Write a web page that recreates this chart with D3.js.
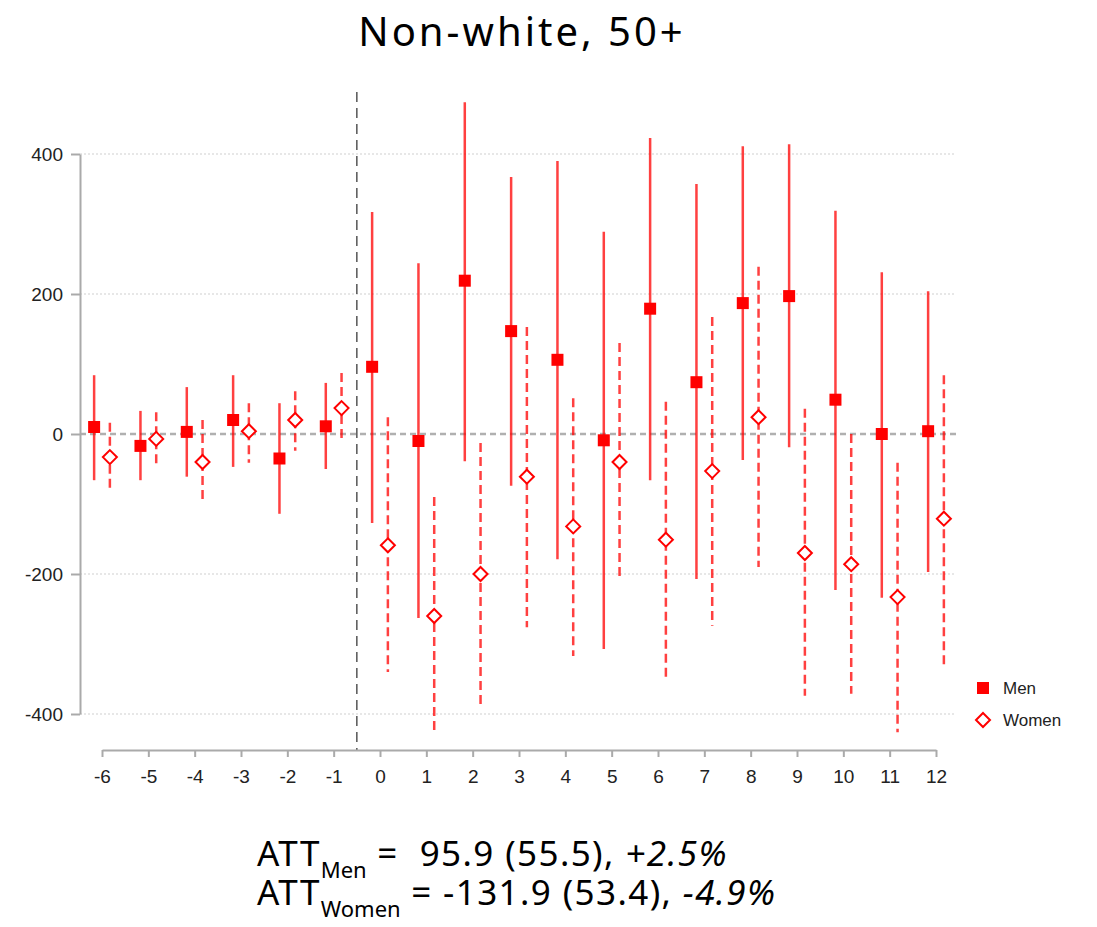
<!DOCTYPE html>
<html>
<head>
<meta charset="utf-8">
<script src="https://cdn.jsdelivr.net/npm/d3@7"></script>
<style>
  body { margin: 0; background: #fff; }
  svg text { white-space: pre; }
</style>
</head>
<body>
<div id="chart"></div>
<script>
var periods = [-6, -5, -4, -3, -2, -1, 0, 1, 2, 3, 4, 5, 6, 7, 8, 9, 10, 11, 12];

var menEst = [10, -17, 3, 20, -35, 11, 96, -10, 219, 147, 106, -9, 179, 74, 187, 197, 49, 0, 4];
var menLo  = [-66, -66, -61, -47, -114, -50, -127, -263, -39, -74, -179, -307, -66, -207, -37, -19, -223, -234, -197];
var menHi  = [84, 33, 67, 84, 44, 73, 317, 244, 474, 367, 390, 289, 423, 357, 411, 414, 319, 231, 204];

var womenEst = [-33, -7, -40, 4, 20, 37, -159, -260, -200, -61, -132, -40, -151, -53, 24, -170, -186, -233, -121];
var womenLo  = [-83, -49, -100, -41, -24, -13, -340, -427, -387, -276, -317, -210, -347, -274, -190, -374, -371, -426, -331];
var womenHi  = [16, 31, 20, 44, 61, 87, 24, -90, -13, 153, 51, 130, 46, 167, 239, 36, 0, -41, 84];

var yTicks = [-400, -200, 0, 200, 400];
var gridTicks = [-400, -200, 200, 400];

var width = 1097, height = 927;
var red = "#ff0000";
var headFont = "'Noto Sans', Lato, sans-serif";
var axisFont = "'Liberation Sans', Arial, sans-serif";

var svg = d3.select("#chart").append("svg")
  .attr("width", width)
  .attr("height", height);

var x = d3.scaleLinear().domain([-6, 12]).range([102, 936]);
var y = d3.scaleLinear().domain([-400, 400]).range([714, 154]);

// title
svg.append("text")
  .attr("x", 522).attr("y", 46)
  .attr("text-anchor", "middle")
  .style("font-family", headFont)
  .style("font-size", "40px")
  .style("letter-spacing", "3px")
  .attr("fill", "#000")
  .text("Non-white, 50+");

// grid
svg.selectAll(".grid").data(gridTicks).enter().append("line")
  .attr("x1", 80).attr("x2", 955)
  .attr("y1", d => y(d)).attr("y2", d => y(d))
  .attr("stroke", "#e0e0e0").attr("stroke-width", 1.5)
  .attr("stroke-dasharray", "2,2");

svg.append("line")
  .attr("x1", 80).attr("x2", 960)
  .attr("y1", y(0)).attr("y2", y(0))
  .attr("stroke", "#b0b0b0").attr("stroke-width", 2.5)
  .attr("stroke-dasharray", "6,4");

// treatment line
svg.append("line")
  .attr("x1", x(-0.5)).attr("x2", x(-0.5))
  .attr("y1", 92).attr("y2", 750)
  .attr("stroke", "#555").attr("stroke-width", 1.5)
  .attr("stroke-dasharray", "10,6");

// axes
var fmt = d => String(d);
var yAxis = d3.axisLeft(y).tickValues(yTicks).tickFormat(fmt).tickSize(9).tickSizeOuter(0).tickPadding(8);
var yG = svg.append("g").attr("transform", "translate(80,0)").call(yAxis);

var xAxis = d3.axisBottom(x).tickValues(periods).tickFormat(fmt).tickSize(7).tickSizeOuter(0).tickPadding(13);
var xG = svg.append("g").attr("transform", "translate(0,750)").call(xAxis);

[yG, xG].forEach(g => {
  g.attr("font-size", null).attr("font-family", null);
  g.select(".domain").attr("stroke", "#aaa").attr("stroke-width", 2);
  g.selectAll(".tick line").attr("stroke", "#aaa").attr("stroke-width", 2);
  g.selectAll(".tick text")
    .style("font-family", axisFont)
    .style("font-size", "19px")
    .attr("fill", "#222");
});

var men = periods.map((p, i) => ({p: p, est: menEst[i], lo: menLo[i], hi: menHi[i]}));
var women = periods.map((p, i) => ({p: p, est: womenEst[i], lo: womenLo[i], hi: womenHi[i]}));
var off = 0.17;

// confidence intervals
svg.selectAll(".ciMen").data(men).enter().append("line")
  .attr("x1", d => x(d.p - off)).attr("x2", d => x(d.p - off))
  .attr("y1", d => y(d.lo)).attr("y2", d => y(d.hi))
  .attr("stroke", red).attr("stroke-opacity", 0.75).attr("stroke-width", 2.5);

svg.selectAll(".ciWomen").data(women).enter().append("line")
  .attr("x1", d => x(d.p + off)).attr("x2", d => x(d.p + off))
  .attr("y1", d => y(d.hi)).attr("y2", d => y(d.lo))
  .attr("stroke", red).attr("stroke-opacity", 0.75).attr("stroke-width", 2.5)
  .attr("stroke-dasharray", "9,5");

// markers
svg.selectAll(".mMen").data(men).enter().append("rect")
  .attr("x", d => x(d.p - off) - 6).attr("y", d => y(d.est) - 6)
  .attr("width", 12).attr("height", 12)
  .attr("fill", red);

var diamond = "M0,-7L7,0L0,7L-7,0Z";
svg.selectAll(".mWomen").data(women).enter().append("path")
  .attr("d", diamond)
  .attr("transform", d => "translate(" + x(d.p + off) + "," + y(d.est) + ")")
  .attr("fill", "#fff").attr("stroke", red).attr("stroke-width", 2);

// legend
svg.append("rect").attr("x", 977).attr("y", 682).attr("width", 12).attr("height", 12).attr("fill", red);
svg.append("path").attr("d", diamond).attr("transform", "translate(983,720)")
  .attr("fill", "#fff").attr("stroke", red).attr("stroke-width", 2);
var legendLabels = ["Men", "Women"];
svg.selectAll(".leg").data(legendLabels).enter().append("text")
  .attr("x", 1003).attr("y", (d, i) => 694 + i * 32)
  .style("font-family", axisFont)
  .style("font-size", "17px")
  .attr("fill", "#222")
  .text(d => d);

// ATT summary
var attLines = [
  {sub: "Men", rest: " =  95.9 (55.5), ", pct: "+2.5%"},
  {sub: "Women", rest: " = -131.9 (53.4), ", pct: "-4.9%"}
];
attLines.forEach((l, i) => {
  var t = svg.append("text")
    .attr("x", 257).attr("y", 866 + i * 39)
    .style("font-family", headFont)
    .style("font-size", "35px")
    .style("letter-spacing", "1.4px")
    .attr("fill", "#000");
  t.append("tspan").text("ATT");
  t.append("tspan").attr("dy", 12).style("font-size", "22px").style("letter-spacing", "0px").text(l.sub);
  t.append("tspan").attr("dy", -12).text(l.rest);
  t.append("tspan").style("font-style", "italic").text(l.pct);
});
</script>
</body>
</html>
